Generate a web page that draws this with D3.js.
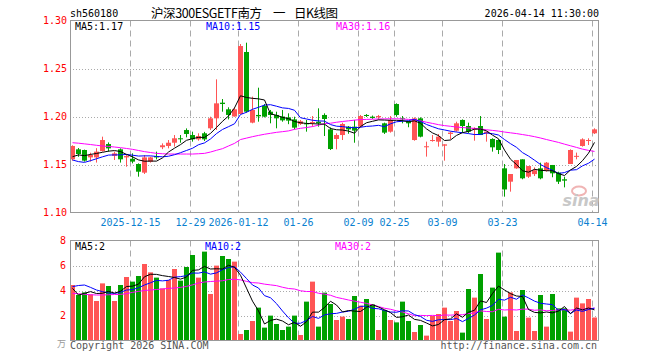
<!DOCTYPE html>
<html>
<head>
<meta charset="utf-8">
<script src="https://cdn.jsdelivr.net/npm/d3@7/dist/d3.min.js"></script>
<style>
  body { margin: 0; background: #fff; }
</style>
</head>
<body>
<div id="kline"></div>
<script>
// trading days shown (2025-12-01 .. 2026-04-14)
var dates = [
  "2025-12-01","2025-12-02","2025-12-03","2025-12-04","2025-12-05","2025-12-08","2025-12-09","2025-12-10","2025-12-11","2025-12-12",
  "2025-12-15","2025-12-16","2025-12-17","2025-12-18","2025-12-19","2025-12-22","2025-12-23","2025-12-24","2025-12-25","2025-12-26",
  "2025-12-29","2025-12-30","2025-12-31","2026-01-05","2026-01-06","2026-01-07","2026-01-08","2026-01-09","2026-01-12","2026-01-13",
  "2026-01-14","2026-01-15","2026-01-16","2026-01-19","2026-01-20","2026-01-21","2026-01-22","2026-01-23","2026-01-26","2026-01-27",
  "2026-01-28","2026-01-29","2026-01-30","2026-02-02","2026-02-03","2026-02-04","2026-02-05","2026-02-06","2026-02-09","2026-02-10",
  "2026-02-11","2026-02-12","2026-02-13","2026-02-24","2026-02-25","2026-02-26","2026-02-27","2026-03-02","2026-03-03","2026-03-04",
  "2026-03-05","2026-03-06","2026-03-09","2026-03-10","2026-03-11","2026-03-12","2026-03-13","2026-03-16","2026-03-17","2026-03-18",
  "2026-03-19","2026-03-20","2026-03-23","2026-03-24","2026-03-25","2026-03-26","2026-03-27","2026-03-30","2026-03-31","2026-04-01",
  "2026-04-02","2026-04-03","2026-04-07","2026-04-08","2026-04-09","2026-04-10","2026-04-13","2026-04-14"
];

var open = [
  1.1554,1.1658,1.1651,1.1574,1.1574,1.1640,1.1713,1.1590,1.1658,1.1574,
  1.1560,1.1505,1.1415,1.1529,1.1588,1.1680,1.1693,1.1727,1.1773,1.1859,
  1.1807,1.1762,1.1825,1.1877,1.1981,1.2144,1.2075,1.2000,1.2026,1.2672,
  1.1936,1.2016,1.2110,1.2050,1.2016,1.2000,1.1991,1.1970,1.1922,1.1929,
  1.1936,1.1946,1.2016,1.1866,1.1766,1.1807,1.1894,1.1894,1.1894,1.2016,
  1.1998,1.1992,1.1929,1.1842,1.2130,1.1981,1.1946,1.1755,1.1981,1.1680,
  1.1745,1.1738,1.1696,1.1818,1.1852,1.1964,1.1901,1.1866,1.1901,1.1825,
  1.1766,1.1755,1.1460,1.1321,1.1460,1.1554,1.1373,1.1400,1.1460,1.1436,
  1.1495,1.1415,1.1346,1.1505,1.1580,1.1693,1.1745,1.1825
];
var high = [
  1.1700,1.1672,1.1655,1.1623,1.1670,1.1790,1.1730,1.1634,1.1668,1.1599,
  1.1616,1.1512,1.1599,1.1580,1.1634,1.1720,1.1755,1.1807,1.1807,1.1876,
  1.1842,1.1825,1.1840,1.1998,1.2387,1.2182,1.2096,1.2096,1.2755,1.2769,
  1.2207,1.2300,1.2130,1.2068,1.2050,1.2068,1.2033,1.1998,1.1964,1.1964,
  1.2005,1.2085,1.2033,1.1887,1.1825,1.1936,1.1901,1.1964,1.2016,1.2025,
  1.2010,1.2016,1.1936,1.2005,1.2137,1.2005,1.1953,1.1991,1.1991,1.1738,
  1.1807,1.1818,1.1710,1.1842,1.1946,1.1970,1.1936,1.1887,1.2005,1.1842,
  1.1773,1.1762,1.1505,1.1401,1.1547,1.1554,1.1484,1.1470,1.1519,1.1526,
  1.1495,1.1425,1.1373,1.1658,1.1624,1.1773,1.1773,1.1877
];
var low = [
  1.1540,1.1580,1.1530,1.1530,1.1520,1.1634,1.1634,1.1547,1.1520,1.1477,
  1.1512,1.1373,1.1401,1.1520,1.1553,1.1660,1.1668,1.1686,1.1727,1.1783,
  1.1738,1.1748,1.1745,1.1860,1.1860,1.2050,1.1970,1.1998,1.2026,1.2040,
  1.1929,1.1946,1.1991,1.1929,1.1877,1.1946,1.1920,1.1866,1.1912,1.1842,
  1.1894,1.1894,1.1797,1.1651,1.1658,1.1755,1.1820,1.1727,1.1887,1.1995,
  1.1975,1.1970,1.1818,1.1832,1.1998,1.1929,1.1888,1.1748,1.1783,1.1582,
  1.1738,1.1686,1.1540,1.1762,1.1842,1.1832,1.1825,1.1748,1.1807,1.1738,
  1.1634,1.1609,1.1165,1.1217,1.1455,1.1346,1.1360,1.1380,1.1346,1.1426,
  1.1367,1.1297,1.1262,1.1505,1.1554,1.1686,1.1703,1.1818
];
var close = [
  1.1693,1.1609,1.1540,1.1599,1.1634,1.1755,1.1668,1.1616,1.1554,1.1588,
  1.1530,1.1425,1.1574,1.1574,1.1574,1.1700,1.1727,1.1773,1.1763,1.1818,
  1.1762,1.1797,1.1762,1.1981,1.2137,1.2130,1.2016,1.2075,1.2734,1.2050,
  1.2068,1.2002,1.1998,1.2016,1.1981,1.1960,1.1957,1.1884,1.1950,1.1922,
  1.1943,1.1929,1.1974,1.1661,1.1807,1.1922,1.1866,1.1853,1.2005,1.2005,
  1.1985,1.2005,1.1832,1.1964,1.2016,1.1974,1.1929,1.1981,1.1790,1.1690,
  1.1755,1.1790,1.1710,1.1832,1.1929,1.1901,1.1842,1.1877,1.1807,1.1842,
  1.1679,1.1651,1.1240,1.1401,1.1547,1.1356,1.1484,1.1440,1.1356,1.1519,
  1.1408,1.1321,1.1332,1.1651,1.1590,1.1762,1.1755,1.1866
];

// volume (万手)
var volume = [
  4.44,3.64,3.85,3.69,3.16,4.57,4.36,3.16,4.44,5.08,
  4.71,5.16,6.12,5.45,5.03,4.17,4.84,5.72,4.79,5.88,
  6.84,5.03,7.11,3.72,5.99,6.76,6.52,6.31,0.52,0.84,
  1.56,2.63,1.03,1.99,1.32,0.84,1.11,1.99,0.44,3.11,
  4.71,1.11,3.83,2.92,1.64,1.91,1.72,3.56,2.79,3.32,
  2.89,0.84,2.44,1.64,1.45,3.11,1.56,0.68,1.24,0.39,
  1.96,2.12,2.63,1.56,2.36,0.63,4.12,3.43,5.32,1.72,
  4.23,7.03,1.91,3.85,0.76,4.04,1.83,0.76,3.64,1.11,
  3.72,2.57,2.57,0.71,3.43,2.97,3.32,1.84
];

// moving averages as drawn on the chart
var ma5 = [
  1.1581,1.1600,1.1592,1.1605,1.1615,1.1627,1.1639,1.1645,1.1635,1.1605,
  1.1580,1.1548,1.1534,1.1536,1.1535,1.1569,1.1630,1.1670,1.1707,1.1752,
  1.1769,1.1783,1.1782,1.1824,1.1886,1.1950,1.2005,1.2090,1.2216,1.2198,
  1.2189,1.2184,1.2172,1.2027,1.2013,1.1991,1.1978,1.1948,1.1935,1.1928,
  1.1925,1.1922,1.1920,1.1875,1.1862,1.1859,1.1848,1.1826,1.1895,1.1935,
  1.1950,1.1965,1.1963,1.1960,1.1960,1.1957,1.1945,1.1955,1.1930,1.1871,
  1.1829,1.1801,1.1750,1.1755,1.1803,1.1832,1.1845,1.1868,1.1869,1.1850,
  1.1806,1.1768,1.1650,1.1555,1.1500,1.1435,1.1420,1.1450,1.1440,1.1435,
  1.1435,1.1405,1.1385,1.1443,1.1480,1.1540,1.1618,1.1730
];
var ma10 = [
  1.1547,1.1530,1.1522,1.1540,1.1560,1.1580,1.1598,1.1600,1.1600,1.1605,
  1.1597,1.1588,1.1590,1.1590,1.1584,1.1580,1.1586,1.1602,1.1623,1.1646,
  1.1669,1.1706,1.1725,1.1766,1.1822,1.1865,1.1894,1.1924,1.2021,1.2044,
  1.2075,1.2096,1.2119,1.2123,1.2107,1.2090,1.2084,1.2065,1.1987,1.1974,
  1.1961,1.1954,1.1952,1.1916,1.1899,1.1895,1.1886,1.1883,1.1888,1.1897,
  1.1901,1.1908,1.1894,1.1924,1.1945,1.1951,1.1957,1.1970,1.1948,1.1917,
  1.1894,1.1872,1.1860,1.1847,1.1838,1.1831,1.1822,1.1812,1.1813,1.1829,
  1.1821,1.1807,1.1760,1.1717,1.1679,1.1624,1.1588,1.1545,1.1500,1.1467,
  1.1440,1.1407,1.1416,1.1441,1.1446,1.1486,1.1513,1.1556
];
var ma30 = [
  1.1727,1.1722,1.1715,1.1708,1.1700,1.1693,1.1688,1.1682,1.1675,1.1667,
  1.1658,1.1646,1.1634,1.1625,1.1616,1.1612,1.1609,1.1609,1.1609,1.1609,
  1.1609,1.1612,1.1616,1.1630,1.1648,1.1665,1.1693,1.1720,1.1760,1.1775,
  1.1790,1.1803,1.1815,1.1825,1.1835,1.1842,1.1850,1.1866,1.1877,1.1885,
  1.1895,1.1910,1.1925,1.1930,1.1940,1.1948,1.1955,1.1962,1.1968,1.1970,
  1.1972,1.1974,1.1975,1.1976,1.1976,1.1974,1.1970,1.1966,1.1955,1.1940,
  1.1928,1.1915,1.1905,1.1898,1.1890,1.1885,1.1880,1.1876,1.1870,1.1862,
  1.1855,1.1848,1.1838,1.1830,1.1822,1.1812,1.1802,1.1790,1.1776,1.1760,
  1.1745,1.1730,1.1712,1.1695,1.1678,1.1660,1.1647,1.1636
];
var volMa5 = [
  4.17,3.64,3.77,3.91,3.76,3.78,3.93,3.79,3.94,4.32,
  4.35,4.51,5.10,5.30,5.29,5.19,5.12,5.04,4.91,5.08,
  5.61,5.65,5.93,5.72,5.74,5.72,6.02,5.86,5.22,4.19,
  3.15,2.37,1.32,1.61,1.71,1.56,1.26,1.45,1.14,1.50,
  2.27,2.27,2.64,3.14,2.84,2.28,2.40,2.35,2.32,2.66,
  2.86,2.68,2.46,2.23,1.85,1.90,2.04,1.69,1.61,1.40,
  1.17,1.28,1.67,1.73,2.13,1.86,2.26,2.42,3.17,3.04,
  3.76,4.35,4.04,3.75,3.56,3.52,2.48,2.25,2.21,2.28,
  2.21,2.36,2.72,2.14,2.60,2.45,2.60,2.45
];
var volMa10 = [
  4.31,4.40,4.44,4.25,4.04,3.91,3.80,3.77,3.85,4.04,
  4.07,4.22,4.44,4.62,4.81,4.77,4.82,5.07,5.11,5.19,
  5.40,5.39,5.49,5.31,5.41,5.67,5.84,5.90,5.47,4.96,
  4.44,4.20,3.59,3.42,2.95,2.36,1.82,1.38,1.38,1.60,
  1.92,1.77,2.05,2.14,2.17,2.28,2.34,2.50,2.73,2.75,
  2.57,2.54,2.40,2.28,2.26,2.38,2.36,2.07,1.92,1.62,
  1.53,1.66,1.68,1.67,1.76,1.51,1.77,2.04,2.45,2.59,
  2.81,3.30,3.23,3.46,3.30,3.64,3.41,3.15,2.98,2.92,
  2.87,2.42,2.49,2.17,2.44,2.33,2.48,2.59
];
var volMa30 = [
  3.77,3.74,3.70,3.66,3.64,3.64,3.66,3.68,3.69,3.75,
  3.85,3.93,4.00,4.04,4.08,4.12,4.17,4.20,4.25,4.33,
  4.45,4.60,4.68,4.72,4.75,4.78,4.88,4.90,4.85,4.73,
  4.63,4.60,4.51,4.45,4.39,4.26,4.16,4.12,3.98,3.92,
  3.92,3.78,3.71,3.62,3.45,3.35,3.24,3.15,3.06,2.97,
  2.85,2.72,2.58,2.50,2.38,2.28,2.14,1.98,2.01,1.99,
  2.01,1.99,2.04,2.03,2.06,2.06,2.16,2.20,2.37,2.32,
  2.30,2.50,2.44,2.47,2.44,2.51,2.51,2.42,2.45,2.38,
  2.40,2.46,2.46,2.43,2.50,2.50,2.55,2.59
];

var tickDates = ["2025-12-15","2025-12-29","2026-01-12","2026-01-26","2026-02-09","2026-02-25","2026-03-09","2026-03-23","2026-04-14"];
var tickLabels = ["2025-12-15","12-29","2026-01-12","01-26","02-09","02-25","03-09","03-23","04-14"];
var priceTicks = [1.10, 1.15, 1.20, 1.25, 1.30];
var volTicks = [2, 4, 6, 8];

var upColor = "#ff5555", downColor = "#00a000";
var mono = "'DejaVu Sans Mono', monospace";
var cjk = "'Noto Sans CJK SC', sans-serif";

var plotLeft = 70, plotRight = 598;
var priceTop = 20.5, priceBottom = 212.5;
var volTop = 240.5, volBottom = 340.5;

var svg = d3.select("#kline")
    .append("svg")
    .attr("width", 660)
    .attr("height", 360)
    .style("font-family", mono);

var x = d3.scaleBand()
    .domain(dates)
    .range([plotLeft, plotLeft + 6 * dates.length - 1])
    .paddingInner(1 / 6)
    .paddingOuter(0);

var yPrice = d3.scaleLinear().domain([1.10, 1.30]).range([priceBottom, priceTop]);
var yVol = d3.scaleLinear().domain([0, 8]).range([volBottom, volTop]);

var mid = function(d) { return Math.floor(x(d) + x.bandwidth() / 2) + 0.5; };
var isUp = function(i) { return close[i] >= open[i]; };
// the chart cuts values, it does not round them
var cut = function(v, n) { var p = Math.pow(10, n); return (Math.floor(v * p + 1e-9) / p).toFixed(n); };

// --- header
svg.append("text").attr("x", 70).attr("y", 16.5).attr("font-size", 10).text("sh560180");
svg.append("text").attr("x", 151).attr("y", 17.5)
    .style("font-family", cjk).attr("font-size", 12.5)
    .attr("textLength", 111).attr("lengthAdjust", "spacing")
    .text("沪深300ESGETF南方");
svg.append("text").attr("x", 273).attr("y", 17.5)
    .style("font-family", cjk).attr("font-size", 12.5).text("一");
svg.append("text").attr("x", 294).attr("y", 17.5)
    .style("font-family", cjk).attr("font-size", 12.5)
    .attr("textLength", 44).attr("lengthAdjust", "spacing")
    .text("日K线图");
svg.append("text").attr("x", 599).attr("y", 16.5).attr("font-size", 10)
    .attr("text-anchor", "end").text("2026-04-14 11:30:00");

// --- grid
function hGrid(values, scale) {
  svg.append("g").selectAll("line").data(values).enter().append("line")
      .attr("x1", plotLeft).attr("x2", plotRight)
      .attr("y1", function(d) { return Math.round(scale(d)) + 0.5; })
      .attr("y2", function(d) { return Math.round(scale(d)) + 0.5; })
      .attr("stroke", "#aaa").attr("stroke-dasharray", "1,2");
}
hGrid([1.15, 1.20, 1.25], yPrice);
hGrid([2, 4, 6], yVol);

[[priceTop, priceBottom], [volTop, volBottom]].forEach(function(p) {
  svg.append("g").selectAll("line").data(tickDates).enter().append("line")
      .attr("x1", function(d) { return x(d) + 0.5; })
      .attr("x2", function(d) { return x(d) + 0.5; })
      .attr("y1", p[0]).attr("y2", p[1])
      .attr("stroke", "#aaa").attr("stroke-dasharray", "6,4");
});

// --- candles
var idx = d3.range(dates.length);
var candles = svg.append("g");
candles.selectAll("line").data(idx).enter().append("line")
    .attr("x1", function(i) { return mid(dates[i]); })
    .attr("x2", function(i) { return mid(dates[i]); })
    .attr("y1", function(i) { return yPrice(high[i]); })
    .attr("y2", function(i) { return yPrice(low[i]); })
    .attr("stroke", function(i) { return isUp(i) ? upColor : downColor; });
candles.selectAll("rect").data(idx).enter().append("rect")
    .attr("x", function(i) { return x(dates[i]); })
    .attr("width", x.bandwidth())
    .attr("y", function(i) { return yPrice(Math.max(open[i], close[i])); })
    .attr("height", function(i) { return Math.max(1, Math.abs(yPrice(open[i]) - yPrice(close[i]))); })
    .attr("fill", function(i) { return isUp(i) ? upColor : downColor; });

// --- volume bars
svg.append("g").selectAll("rect").data(idx).enter().append("rect")
    .attr("x", function(i) { return x(dates[i]); })
    .attr("width", x.bandwidth())
    .attr("y", function(i) { return yVol(volume[i]); })
    .attr("height", function(i) { return yVol(0) - yVol(volume[i]); })
    .attr("fill", function(i) { return isUp(i) ? upColor : downColor; });

// --- moving average lines
function maLine(values, scale, color) {
  var line = d3.line()
      .x(function(v, i) { return x(dates[i]) + x.bandwidth() / 2; })
      .y(function(v) { return scale(v); });
  svg.append("path").datum(values)
      .attr("d", line).attr("fill", "none")
      .attr("stroke", color).attr("stroke-width", 1);
}
maLine(ma30, yPrice, "#ff00ff");
maLine(ma10, yPrice, "#0000ff");
maLine(ma5, yPrice, "#000000");
maLine(volMa30, yVol, "#ff00ff");
maLine(volMa10, yVol, "#0000ff");
maLine(volMa5, yVol, "#000000");

// --- frames
svg.append("rect").attr("x", plotLeft + 0.5).attr("y", priceTop)
    .attr("width", plotRight - plotLeft).attr("height", priceBottom - priceTop)
    .attr("fill", "none").attr("stroke", "#999");
svg.append("rect").attr("x", plotLeft + 0.5).attr("y", volTop)
    .attr("width", plotRight - plotLeft).attr("height", volBottom - volTop)
    .attr("fill", "none").attr("stroke", "#999");

// --- axes labels
var priceAxis = svg.append("g")
    .attr("transform", "translate(67,0)")
    .call(d3.axisLeft(yPrice).tickValues(priceTicks).tickSize(0).tickPadding(0).tickFormat(d3.format(".2f")));
var volAxis = svg.append("g")
    .attr("transform", "translate(66,0)")
    .call(d3.axisLeft(yVol).tickValues(volTicks).tickSize(0).tickPadding(0).tickFormat(d3.format("d")));
[priceAxis, volAxis].forEach(function(a) {
  a.select(".domain").remove();
  a.selectAll("text").attr("fill", "#ff0000").style("font-family", mono).attr("font-size", 10);
});
svg.append("text").attr("x", 57).attr("y", 347).attr("font-size", 9).attr("fill", "#999")
    .style("font-family", cjk).text("万");

svg.append("g").selectAll("text").data(tickDates).enter().append("text")
    .attr("x", function(d) { return x(d) + 0.5; })
    .attr("y", 226)
    .attr("text-anchor", "middle")
    .attr("font-size", 10)
    .attr("fill", "#0a7fd0")
    .text(function(d, i) { return tickLabels[i]; });

// --- legends
function legend(xPos, yPos, label, color) {
  svg.append("text").attr("x", xPos).attr("y", yPos).attr("font-size", 10)
      .attr("fill", color).text(label);
}
var last = function(a) { return a[a.length - 1]; };
legend(75, 30, "MA5:" + cut(last(ma5), 2), "#000");
legend(206, 30, "MA10:" + cut(last(ma10), 2), "#0000ff");
legend(336, 30, "MA30:" + cut(last(ma30), 2), "#ff00ff");
legend(75, 250, "MA5:" + cut(last(volMa5), 0), "#000");
legend(205, 250, "MA10:" + cut(last(volMa10), 0), "#0000ff");
legend(335, 250, "MA30:" + cut(last(volMa30), 0), "#ff00ff");

// --- footer + watermark
svg.append("text").attr("x", 70).attr("y", 349).attr("font-size", 10).attr("fill", "#555")
    .text("Copyright 2026 SINA.COM");
svg.append("text").attr("x", 597).attr("y", 349).attr("font-size", 10).attr("fill", "#555")
    .attr("text-anchor", "end").text("http://finance.sina.com.cn");
svg.append("ellipse").attr("cx", 579).attr("cy", 191).attr("rx", 7).attr("ry", 4.5)
    .attr("fill", "none").attr("stroke", "#f0b4b4").attr("stroke-width", 2);
svg.append("text").attr("x", 581).attr("y", 206).attr("text-anchor", "middle")
    .attr("font-size", 16).attr("font-weight", "bold").attr("font-style", "italic")
    .style("font-family", "'DejaVu Sans', sans-serif")
    .attr("fill", "#c8c8c8").text("sina");
</script>
</body>
</html>
